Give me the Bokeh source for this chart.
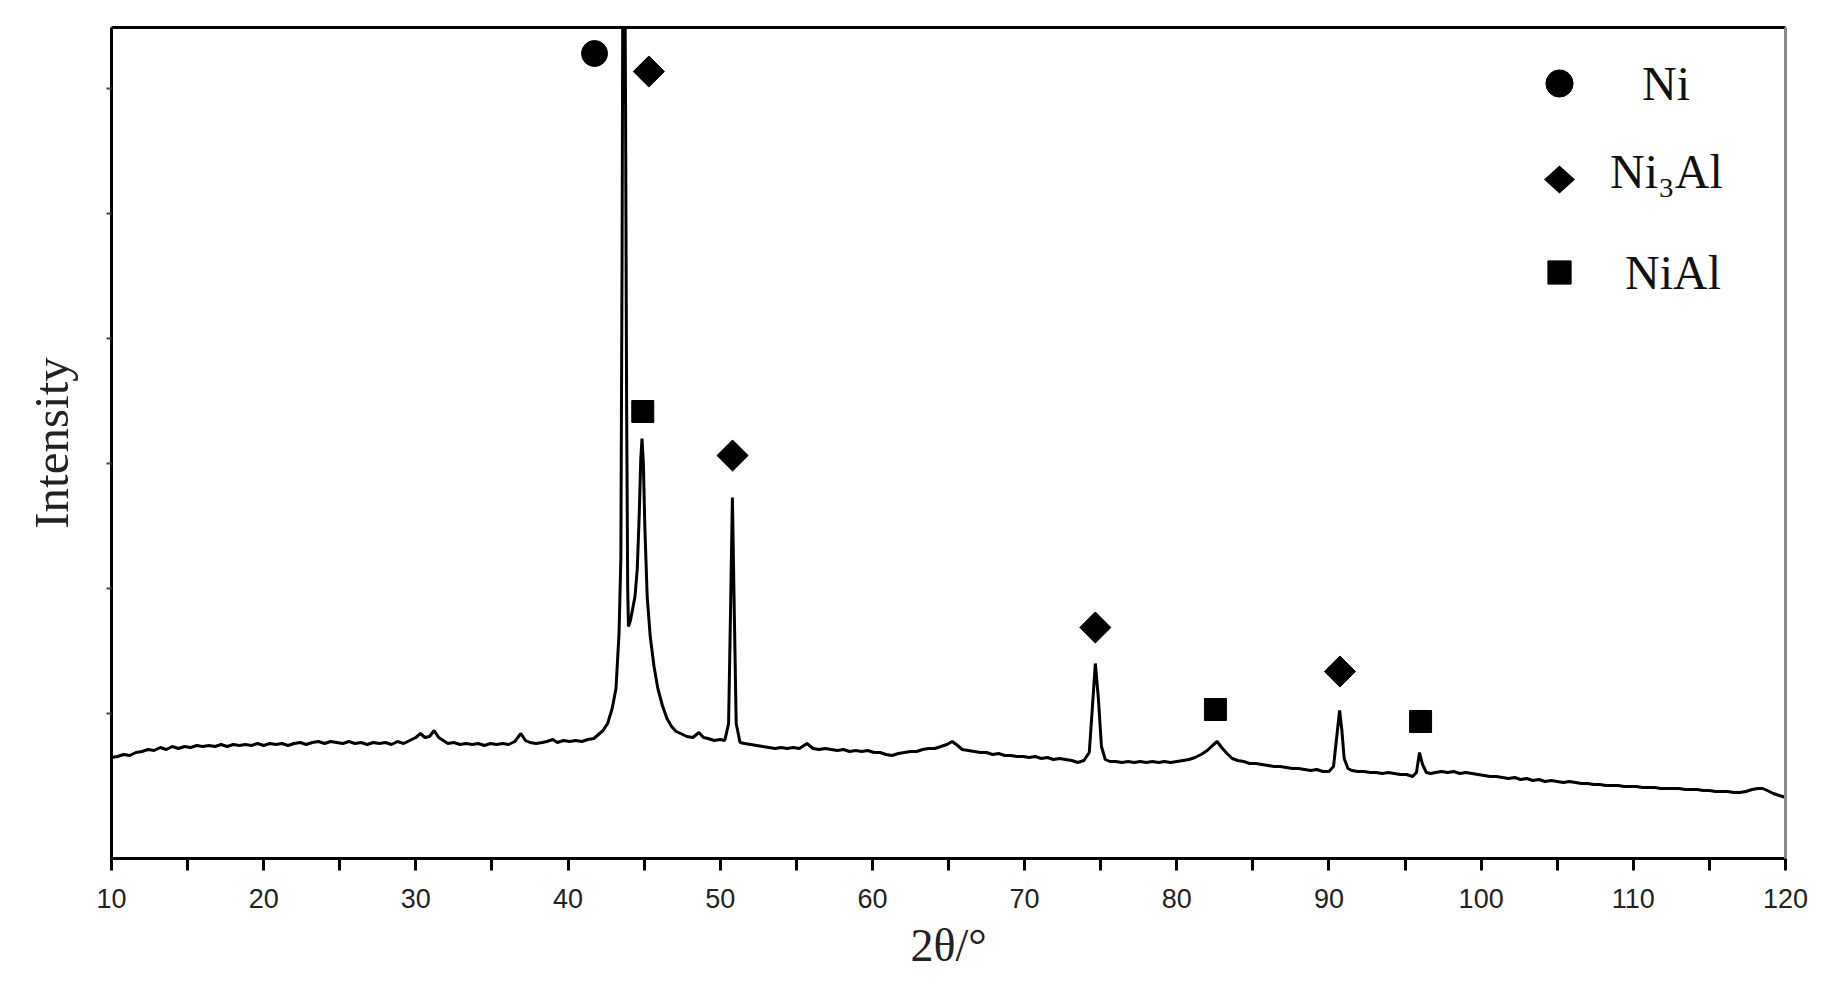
import numpy as np
from bokeh.plotting import figure
from bokeh.models import (Range1d, LinearAxis, FixedTicker, Legend, LegendItem,
                          ColumnDataSource, PolyAnnotation)
from bokeh.embed import file_html
from bokeh.resources import INLINE

# ---------------- data ----------------
two_theta = [
    10.0, 10.4, 10.8, 11.2, 11.6, 12.0, 12.4, 12.8, 13.2, 13.6, 14.0, 14.4, 14.8, 15.2, 15.6,
    16.0, 16.4, 16.8, 17.2, 17.6, 18.0, 18.4, 18.8, 19.2, 19.6, 20.0, 20.4, 20.8, 21.2, 21.6,
    22.0, 22.4, 22.8, 23.2, 23.6, 24.0, 24.4, 24.8, 25.2, 25.6, 26.0, 26.4, 26.8, 27.2, 27.6,
    28.0, 28.4, 28.8, 29.2, 29.6, 30.0, 30.3, 30.6, 30.9, 31.2, 31.5, 31.8, 32.1, 32.5, 32.9,
    33.3, 33.7, 34.1, 34.5, 34.9, 35.3, 35.7, 36.1, 36.5, 36.9, 37.2, 37.5, 37.9, 38.3, 38.6,
    39.0, 39.3, 39.7, 40.1, 40.5, 40.9, 41.3, 41.7, 42.0, 42.3, 42.6, 42.9, 43.15, 43.35, 43.47,
    43.55, 43.62, 43.7, 43.78, 43.85, 43.92, 43.97, 44.1, 44.25, 44.4, 44.55, 44.68, 44.78, 44.86,
    44.95, 45.05, 45.2, 45.4, 45.65, 45.9, 46.2, 46.5, 46.8, 47.1, 47.4, 47.8, 48.2, 48.6, 48.9,
    49.2, 49.6, 50.0, 50.3, 50.55, 50.68, 50.8, 50.92, 51.05, 51.3, 51.6, 52.0, 52.4, 52.8, 53.2,
    53.6, 54.0, 54.4, 54.8, 55.2, 55.7, 56.1, 56.5, 56.9, 57.3, 57.7, 58.1, 58.5, 58.9, 59.3,
    59.7, 60.1, 60.5, 60.9, 61.3, 61.7, 62.1, 62.5, 62.9, 63.3, 63.7, 64.1, 64.5, 64.9, 65.25,
    65.6, 65.9, 66.3, 66.7, 67.1, 67.5, 67.9, 68.3, 68.7, 69.1, 69.5, 69.9, 70.3, 70.7, 71.1,
    71.5, 71.9, 72.3, 72.7, 73.1, 73.5, 73.9, 74.25, 74.45, 74.65, 74.85, 75.05, 75.3, 75.6, 76.0,
    76.4, 76.8, 77.2, 77.6, 78.0, 78.4, 78.8, 79.2, 79.6, 80.0, 80.4, 80.8, 81.2, 81.6, 82.0,
    82.35, 82.65, 82.95, 83.3, 83.65, 84.0, 84.4, 84.8, 85.2, 85.6, 86.0, 86.4, 86.8, 87.2, 87.6,
    88.0, 88.4, 88.8, 89.2, 89.6, 90.0, 90.3, 90.5, 90.7, 90.85, 91.0, 91.25, 91.5, 91.9, 92.3,
    92.7, 93.1, 93.5, 93.9, 94.3, 94.7, 95.1, 95.5, 95.75, 95.95, 96.15, 96.4, 96.7, 97.0, 97.4,
    97.8, 98.2, 98.6, 99.0, 99.4, 99.8, 100.2, 100.6, 101.0, 101.4, 101.8, 102.2, 102.6, 103.0, 103.4,
    103.8, 104.2, 104.6, 105.0, 105.4, 105.8, 106.2, 106.6, 107.0, 107.4, 107.8, 108.2, 108.6, 109.0, 109.4,
    109.8, 110.2, 110.6, 111.0, 111.4, 111.8, 112.2, 112.6, 113.0, 113.4, 113.8, 114.2, 114.6, 115.0, 115.4,
    115.8, 116.2, 116.6, 117.0, 117.4, 117.8, 118.2, 118.5, 118.8, 119.2, 119.6, 120.0,
]
intensity = [
    101, 102, 104, 103, 106, 107, 109, 108, 111, 109, 112, 110, 112, 111, 113,
    112, 113, 112, 114, 112, 114, 113, 114, 113, 115, 113, 115, 114, 115, 113,
    115, 116, 114, 116, 117, 115, 117, 116, 115, 117, 115, 116, 114, 116, 115,
    116, 114, 117, 115, 118, 121, 125, 121, 122, 128, 121, 118, 115, 116, 114,
    115, 114, 115, 113, 115, 114, 115, 114, 117, 125, 118, 116, 115, 116, 117,
    119, 116, 118, 117, 118, 117, 119, 120, 124, 128, 135, 150, 170, 225, 300,
    600, 1000, 1000, 750, 450, 270, 232, 238, 250, 262, 290, 345, 400, 420,
    395, 330, 262, 222, 192, 170, 153, 140, 132, 127, 125, 122, 121, 126, 121,
    120, 118, 119, 118, 135, 250, 361, 250, 135, 116, 115, 114, 113, 112, 111,
    110, 111, 110, 111, 110, 115, 110, 109, 110, 109, 108, 109, 107, 108, 107,
    108, 106, 106, 104, 103, 105, 106, 107, 107, 109, 110, 110, 112, 114, 117,
    113, 109, 108, 107, 106, 106, 104, 105, 103, 103, 102, 102, 101, 102, 100,
    101, 99, 100, 99, 98, 96, 98, 106, 150, 195, 160, 112, 99, 97, 97,
    96, 97, 96, 97, 96, 97, 96, 97, 96, 97, 98, 99, 101, 104, 108,
    113, 117, 111, 105, 100, 98, 97, 95, 95, 94, 93, 92, 92, 91, 90,
    90, 89, 88, 89, 87, 87, 92, 120, 148, 128, 100, 90, 88, 87, 87,
    86, 86, 85, 86, 85, 84, 84, 82, 86, 106, 94, 86, 85, 86, 87,
    86, 87, 85, 86, 85, 84, 83, 82, 82, 81, 80, 81, 79, 80, 78,
    79, 77, 78, 77, 76, 77, 76, 75, 75, 74, 74, 73, 73, 73, 72,
    72, 72, 71, 71, 71, 70, 70, 70, 70, 69, 69, 69, 68, 68, 67,
    67, 67, 66, 66, 67, 69, 70, 70, 68, 65, 63, 61,
]

# phase markers (peak labels)
ni_theta = [41.74]
ni_level = [805]
ni3al_theta = [45.31, 50.81, 74.65, 90.72]
ni3al_level = [787, 403, 231, 187]
nial_theta = [44.91, 82.54, 96.02]
nial_level = [447, 149, 137]

phase_labels = ["Ni", "Ni₃Al", "NiAl"]

x_ticks = [10, 20, 30, 40, 50, 60, 70, 80, 90, 100, 110, 120]
x_minor = [15, 25, 35, 45, 55, 65, 75, 85, 95, 105, 115]
y_ticks = [145, 270, 395, 520, 645, 770]

x_title = "2θ/°"
y_title = "Intensity"

# ---------------- figure ----------------
W, H = 1824, 982
FL, FT, FR, FB = 111, 27, 1785, 858          # frame edges in canvas pixels
p = figure(width=W, height=H, output_backend="svg", toolbar_location=None,
           x_range=Range1d(10, 120), y_range=Range1d(0, 831),
           min_border_left=FL, min_border_right=W - FR, min_border_top=FT,
           min_border_bottom=H - FB,
           background_fill_color="white", border_fill_color="white")
p.grid.visible = False
p.outline_line_color = None

xa = p.xaxis[0]
xa.ticker = FixedTicker(ticks=x_ticks, minor_ticks=x_minor)
xa.axis_line_width = 3
xa.axis_line_color = "black"
xa.major_tick_in = 0
xa.major_tick_out = 12
xa.major_tick_line_width = 3
xa.minor_tick_in = 0
xa.minor_tick_out = 12
xa.minor_tick_line_width = 3
xa.major_label_text_font = "Liberation Sans"
xa.major_label_text_font_size = "27px"
xa.major_label_text_color = "#222222"
xa.major_label_standoff = 18
xa.axis_label = x_title
xa.axis_label_text_font = "Liberation Serif"
xa.axis_label_text_font_size = "46px"
xa.axis_label_text_font_style = "normal"
xa.axis_label_text_color = "#222222"
xa.axis_label_standoff = 9

ya = p.yaxis[0]
ya.ticker = FixedTicker(ticks=[], minor_ticks=y_ticks)
ya.axis_line_width = 3
ya.axis_line_color = "black"
ya.minor_tick_in = 0
ya.minor_tick_out = 5
ya.minor_tick_line_width = 2
ya.minor_tick_line_color = "#444444"
ya.axis_label = y_title
ya.axis_label_text_font = "Liberation Serif"
ya.axis_label_text_font_size = "49px"
ya.axis_label_text_font_style = "normal"
ya.axis_label_text_color = "#222222"
ya.axis_label_standoff = 28

for place, color in (("above", "black"), ("right", "#8a8a8a")):
    ax = LinearAxis(ticker=FixedTicker(ticks=[]), axis_line_width=3,
                    axis_line_color=color, major_tick_line_color=None,
                    minor_tick_line_color=None)
    p.add_layout(ax, place)

# pattern
src = ColumnDataSource(dict(x=two_theta, y=intensity))
p.line("x", "y", source=src, line_color="black", line_width=3)

# phase markers
r_ni = p.scatter(ni_theta, ni_level, marker="circle", size=26, color="black")
r_ni3al = p.scatter(ni3al_theta, ni3al_level, marker="square", angle=np.pi / 4,
                    size=22, color="black")
r_nial = p.scatter(nial_theta, nial_level, marker="square", size=22, color="black")
# Bokeh legends draw markers unrotated, so the Ni3Al entry uses a blank swatch
# and its diamond is drawn as a screen-space annotation.
r_blank = p.scatter([], [], marker="square", size=1, alpha=0)

# legend: one entry per Legend so each swatch gets its own size
SW_X = 1559                                 # swatch centre x (canvas px)
legend_specs = [(phase_labels[0], r_ni, 68, 49, 83),
                (phase_labels[1], r_blank, 55, 23, 172),
                (phase_labels[2], r_nial, 58, 37, 272)]
for label, rend, g, standoff, cy in legend_specs:
    lg = Legend(items=[LegendItem(label=label, renderers=[rend])],
                location=(SW_X - g // 2 - FL, FB - (cy + g // 2)),
                glyph_width=g, glyph_height=g, label_standoff=standoff,
                padding=0, margin=0, spacing=0, border_line_color=None,
                background_fill_alpha=0,
                label_text_font="Liberation Serif", label_text_font_size="48px",
                label_text_color="#111111")
    p.add_layout(lg)

# diamond swatch for the Ni3Al entry (frame-relative screen units, y up)
dcx, dcy, hw, hh = SW_X - FL, FB - 179, 15.5, 14
p.add_layout(PolyAnnotation(xs=[dcx, dcx + hw, dcx, dcx - hw],
                            ys=[dcy + hh, dcy, dcy - hh, dcy],
                            xs_units="screen", ys_units="screen",
                            fill_color="black", fill_alpha=1, line_color=None))

open("out.html", "w").write(file_html(p, INLINE))
